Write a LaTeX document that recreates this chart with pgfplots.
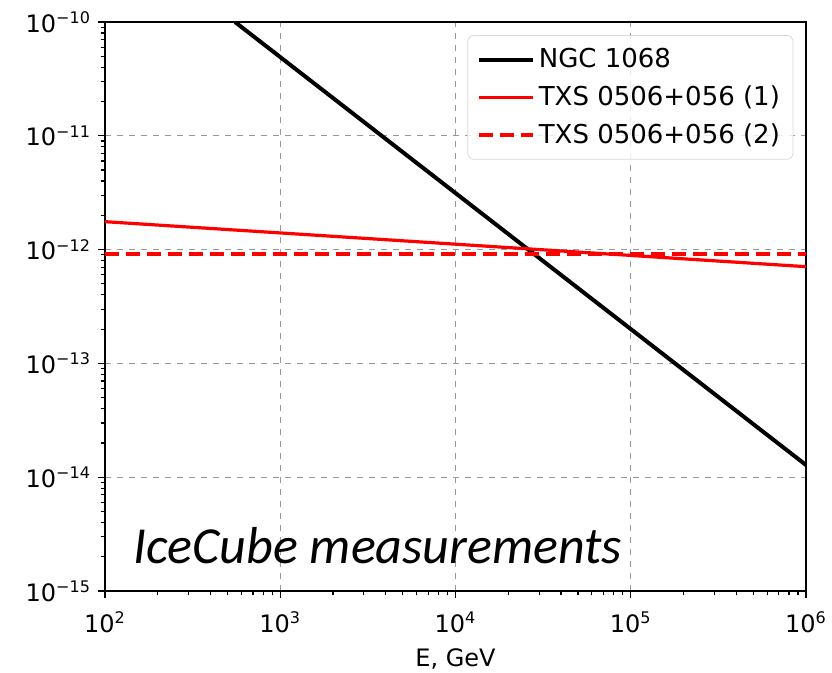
\documentclass[border=0pt]{standalone}
\usepackage{pgfplots}
\pgfplotsset{compat=1.18}
\usepackage{fontspec}
\setmainfont{DejaVu Sans}
\newfontfamily\calib{Carlito}
\begin{document}
\begin{tikzpicture}
\path[use as bounding box] (-52.5pt,-41pt) rectangle (363.5pt,295.5pt);
\begin{axis}[
  at={(0pt,0pt)}, anchor=south west,
  scale only axis, width=350.5pt, height=284.5pt,
  xmode=log, ymode=log,
  xmin=1e2, xmax=1e6, ymin=1e-15, ymax=1e-10,
  xtick={1e2,1e3,1e4,1e5,1e6},
  xticklabels={10\textsuperscript{2},10\textsuperscript{3},10\textsuperscript{4},10\textsuperscript{5},10\textsuperscript{6}},
  minor xtick={200,300,400,500,600,700,800,900,2000,3000,4000,5000,6000,7000,8000,9000,20000,30000,40000,50000,60000,70000,80000,90000,200000,300000,400000,500000,600000,700000,800000,900000},
  ytick={1e-15,1e-14,1e-13,1e-12,1e-11,1e-10},
  yticklabels={10\textsuperscript{\textminus15},10\textsuperscript{\textminus14},10\textsuperscript{\textminus13},10\textsuperscript{\textminus12},10\textsuperscript{\textminus11},10\textsuperscript{\textminus10}},
  minor ytick={2e-15,3e-15,4e-15,5e-15,6e-15,7e-15,8e-15,9e-15,2e-14,3e-14,4e-14,5e-14,6e-14,7e-14,8e-14,9e-14,2e-13,3e-13,4e-13,5e-13,6e-13,7e-13,8e-13,9e-13,2e-12,3e-12,4e-12,5e-12,6e-12,7e-12,8e-12,9e-12,2e-11,3e-11,4e-11,5e-11,6e-11,7e-11,8e-11,9e-11},
  ticklabel style={font=\fontsize{12}{14}\selectfont},
  xticklabel style={yshift=-3.5pt},
  tick align=outside, tick pos=left,
  major tick length=3.5pt, minor tick length=2.2pt,
  axis line style={line width=0.8pt},
  every tick/.style={black, line width=0.6pt},
  xmajorgrids, ymajorgrids, xminorgrids=false, yminorgrids=false,
  major grid style={gray!80, dashed, line width=0.5pt},
  xlabel={E, GeV},
  xlabel style={font=\fontsize{12}{14}\selectfont, yshift=-1pt},
  legend style={at={(0.982,0.977)}, anchor=north east, draw=black!15, rounded corners=3pt, fill=white, fill opacity=0.8, text opacity=1, font=\fontsize{13}{15}\selectfont, inner sep=4.5pt, row sep=3.5pt},
  legend cell align=left,
  legend image code/.code={\draw[#1] (0pt,0pt) -- (27pt,0pt);},
]
\addplot[black, line width=2pt] coordinates {(552,1e-10) (1e6,1.28e-14)};
\addlegendentry{NGC 1068}
\addplot[red, line width=1.6pt] coordinates {(1e2,1.76e-12) (1e6,7.08e-13)};
\addlegendentry{TXS 0506+056 (1)}
\addplot[red, line width=2pt, dash pattern=on 7pt off 3.5pt] coordinates {(1e2,9.2e-13) (1e6,9.2e-13)};
\addlegendentry{TXS 0506+056 (2)}
\node[anchor=base west, font=\calib\itshape\fontsize{26}{30}\selectfont, inner sep=0pt] at (rel axis cs:0.04,0.049) {IceCube measurements};
\end{axis}
\end{tikzpicture}
\end{document}
